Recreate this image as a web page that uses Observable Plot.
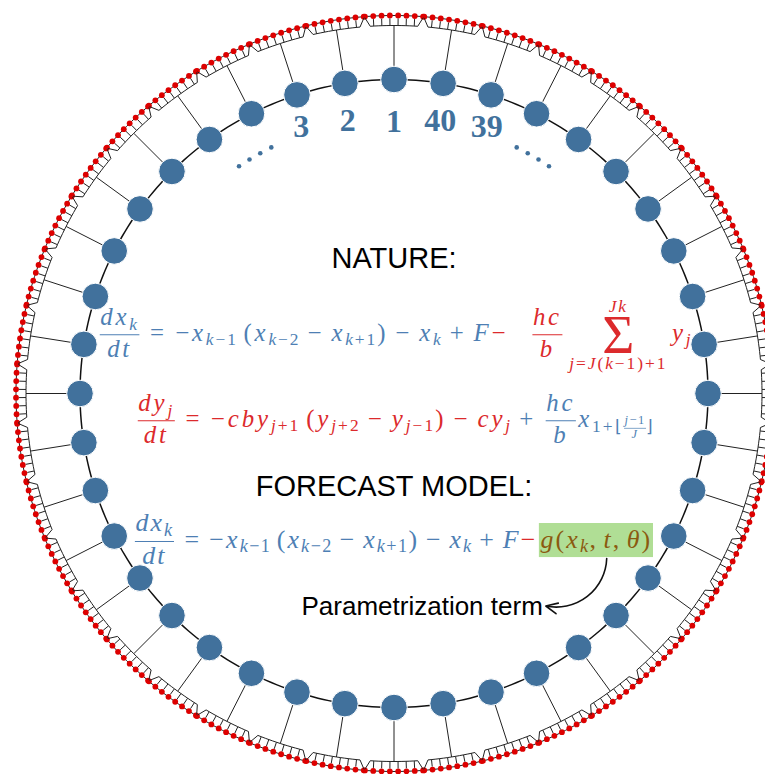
<!DOCTYPE html>
<html><head><meta charset="utf-8">
<script src="https://cdn.jsdelivr.net/npm/d3@7"></script>
<script src="https://cdn.jsdelivr.net/npm/@observablehq/plot@0.6"></script>
<style>body{margin:0;background:#fff}svg{display:block}</style>
</head><body><div id="chart"></div>
<script>
// ---------- data ----------
const K = 40;                 // number of large-scale variables x_k
const J = 8;                  // small-scale variables y_j per x_k
const shownLabels = [1, 2, 3, 39, 40];
const titles = ["NATURE:", "FORECAST MODEL:"];
const annotation = "Parametrization term";

// ---------- geometry / style ----------
const W = 765, H = 774;
const CX = 393.5, CY = 393;
const R_NODE = 314, R_BAR = 368, R_TICK = 375, R_END = 376.5, R_OUT = 378, R_ELL = 275;
const DY_ANG = 1.26, BAR_HALF = 3.7, END_HALF = 4.4;
const NODE = "#41719c", BL = "#4e7fb4", RD = "#dc2a2c", BR = "#8b5a10", GREEN = "#b0de95";

const rad = d => d * Math.PI / 180;
const px = (r, a) => CX + r * Math.cos(rad(a));
const py = (r, a) => CY - r * Math.sin(rad(a));
const nodeAngle = k => 90 + (k - 1) * 360 / K;
const labelOffset = k => (k > K / 2 ? k - K - 1 : k - 1);   // signed distance from node 1

const nodes = d3.range(1, K + 1).map(k => ({k, a: nodeAngle(k)}));
const ydots = nodes.flatMap(n => d3.range(J).map(i => ({k: n.k, a: n.a + (i - (J - 1) / 2) * DY_ANG})));
const ticks = nodes.flatMap(n => d3.range(J - 2).map(i => ({k: n.k, a: n.a + (i - (J - 3) / 2) * DY_ANG})));
const combPts = nodes.flatMap(n => {
  const pts = [[R_END, -END_HALF]];
  for (let d = -BAR_HALF; d <= BAR_HALF + 1e-9; d += BAR_HALF / 6) pts.push([R_BAR, d]);
  pts.push([R_END, END_HALF]);
  return pts.map(([r, d]) => ({k: n.k, x: px(r, n.a + d), y: py(r, n.a + d)}));
});
const ring = r => d3.range(0, 361, 1).map(a => ({x: px(r, a), y: py(r, a)}));
const ellipsis = d3.range(4).flatMap(i => [{a: 116.5 + i * 2.6}, {a: 63.5 - i * 2.6}]);
const labels = nodes.filter(n => shownLabels.includes(n.k)).map(n => {
  const o = labelOffset(n.k);
  return {k: n.k, a: 90 + o * 9.6, r: 272 + 5 * Math.abs(o)};
});

// ---------- tiny math typesetter ----------
const ctx = document.createElement("canvas").getContext("2d");
const SERIF = "Liberation Serif";
const GS = 1.08; // glyph enlargement relative to metric size
function mw(t, size, italic) {
  ctx.font = `${italic ? "italic " : ""}${size}px "${SERIF}"`;
  return ctx.measureText(t).width;
}
let FSZ = 23, TRACK = 0;
const isVar = ch => /[A-Za-zθ]/.test(ch);
const empty = () => ({w: 0, items: [], rules: [], tags: []});
function G(str, color, size = FSZ) {
  const b = empty();
  const gs = size * GS;
  for (const ch of str) {
    const italic = isVar(ch);
    b.items.push({x: b.w, dy: 0, t: ch, size: +gs.toFixed(2), italic, color});
    b.w += mw(ch, gs, italic) + 0.85 * TRACK * size / FSZ;
  }
  return b;
}
function place(b, dx) {
  return {w: b.w, items: b.items.map(i => ({...i, x: i.x + dx})),
    rules: b.rules.map(r => ({...r, x1: r.x1 + dx, x2: r.x2 + dx})),
    tags: b.tags.map(t => ({...t, x1: t.x1 + dx, x2: t.x2 + dx}))};
}
function S(b, dy) {
  return {w: b.w, items: b.items.map(i => ({...i, dy: i.dy + dy})),
    rules: b.rules.map(r => ({...r, dy: r.dy + dy})), tags: b.tags};
}
function Hb(...bs) {
  const o = empty();
  for (const b of bs) {
    const p = place(b, o.w);
    o.items.push(...p.items); o.rules.push(...p.rules); o.tags.push(...p.tags);
    o.w += b.w;
  }
  return o;
}
const SP = (em, stretch = 0) => ({w: em * FSZ + stretch * TRACK, items: [], rules: [], tags: []});
const sc = () => FSZ * 0.7, ssc = () => FSZ * 0.5;
const tag = (b, name) => ({...b, tags: [...b.tags, {name, x1: 0, x2: b.w}]});
const sub = (base, script, shift = 0.2) => Hb(base, S(script, shift * FSZ));
const bin = (op, c) => Hb(SP(4 / 18, 0.6), G(op, c), SP(4 / 18, 0.6));
const rel = (op, c) => Hb(SP(5 / 18, 0.6), G(op, c), SP(5 / 18, 0.6));
function frac(num, den, c, o = {}) {
  const up = o.up ?? 0.677 * FSZ, dn = o.dn ?? 0.70 * FSZ, axis = o.axis ?? 0.25 * FSZ;
  const pad = o.pad ?? 0.12 * FSZ, th = o.th ?? 1;
  const inner = Math.max(num.w, den.w), w = inner + 2 * pad;
  const n = S(place(num, pad + (inner - num.w) / 2), -up);
  const d = S(place(den, pad + (inner - den.w) / 2), dn);
  return {w, items: [...n.items, ...d.items],
    rules: [...n.rules, ...d.rules, {x1: pad - 0.5, x2: w - pad + 0.5, dy: -axis, color: c, th}],
    tags: [...n.tags, ...d.tags]};
}
function bigsum(upper, lower, c) {
  const Ssz = 2.4 * FSZ, axis = 0.25 * FSZ, half = 0.331 * Ssz;
  const sw = mw("Σ", Ssz, false);
  const w = Math.max(sw, upper.w, lower.w);
  const sig = {w: sw, items: [{x: (w - sw) / 2, dy: -axis + half, t: "Σ", size: +Ssz.toFixed(2), italic: false, color: c}], rules: [], tags: []};
  const up = S(place(upper, (w - upper.w) / 2), -axis - half - 4);
  const lo = S(place(lower, (w - lower.w) / 2), -axis + half + 0.72 * sc() + 4);
  return {w, items: [...sig.items, ...up.items, ...lo.items], rules: [], tags: []};
}
const xs = (t, c) => sub(G("x", c), G(t, c, sc()));
const ys = (t, c) => sub(G("y", c), G(t, c, sc()));
const rhsX = () => [rel("=", BL), G("−", BL), xs("k−1", BL), SP(1 / 6, 0.6), G("(", BL), xs("k−2", BL), bin("−", BL),
  xs("k+1", BL), G(")", BL), bin("−", BL), xs("k", BL), bin("+", BL), G("F", BL)];

const equations = [
  {x0: 97, base: 340, size: 23, width: 595, build: () => Hb(
    frac(Hb(G("d", BL), xs("k", BL)), G("dt", BL), BL), ...rhsX(),
    G("−", RD), SP(0.95), frac(G("hc", RD), G("b", RD), RD), SP(0.2),
    bigsum(G("Jk", RD, sc()), G("j=J(k−1)+1", RD, sc()), RD), SP(0.2), ys("j", RD))},
  {x0: 135, base: 426, size: 23, width: 520, build: () => {
    const small = frac(G("j−1", BL, ssc()), G("J", BL, ssc()), BL,
      {up: 0.34 * FSZ, dn: 0.27 * FSZ, axis: 0.17 * FSZ, pad: 0.04 * FSZ, th: 0.7});
    return Hb(
      frac(Hb(G("d", RD), ys("j", RD)), G("dt", RD), RD),
      rel("=", RD), G("−", RD), G("cb", RD), ys("j+1", RD), SP(1 / 6, 0.6), G("(", RD), ys("j+2", RD), bin("−", RD),
      ys("j−1", RD), G(")", RD), bin("−", RD), G("c", RD), ys("j", RD), bin("+", BL),
      frac(G("hc", BL), G("b", BL), BL),
      sub(G("x", BL), Hb(G("1+⌊", BL, sc()), small, G("⌋", BL, sc())), 0.25));
  }},
  {x0: 132, base: 547, size: 24, width: 521, build: () => Hb(
    frac(Hb(G("d", BL), xs("k", BL)), G("dt", BL), BL), ...rhsX(), G("−", RD), SP(0.08),
    tag(Hb(SP(0.05), G("g", BR), G("(", BR), xs("k", BR), G(",", BR), SP(1 / 6, 0.6), G("t", BR), G(",", BR),
      SP(1 / 6, 0.6), G("θ", BR), G(")", BR), SP(0.05)), "box"))}
];

const textItems = [], ruleItems = [];
let gbox = null;
for (const eq of equations) {
  FSZ = eq.size;
  TRACK = 0; const w0 = eq.build().w;
  TRACK = 1; const w1 = eq.build().w;
  TRACK = (eq.width - w0) / (w1 - w0);
  const b = eq.build();
  for (const it of b.items) textItems.push({...it, x: eq.x0 + it.x, y: eq.base + it.dy});
  for (const r of b.rules) ruleItems.push({...r, x1: eq.x0 + r.x1, x2: eq.x0 + r.x2, y: eq.base + r.dy});
  for (const t of b.tags) if (t.name === "box")
    gbox = {x1: eq.x0 + t.x1, x2: eq.x0 + t.x2, y1: eq.base - 1.0 * FSZ, y2: eq.base + 0.42 * FSZ};
}

// annotation text geometry
const ANN_SIZE = 26, ANN_X = 301, ANN_BASE = 614;
ctx.font = `${ANN_SIZE}px "Liberation Sans"`;
const annEnd = ANN_X + ctx.measureText(annotation).width;
const arrow = [{x1: gbox.x1 + 0.59 * (gbox.x2 - gbox.x1), y1: gbox.y2 + 1, x2: annEnd + 3, y2: ANN_BASE - 8.5}];

// ---------- marks ----------
const textMarks = Array.from(d3.group(textItems, d => `${d.italic}|${d.color}|${d.size}`), ([key, arr]) =>
  Plot.text(arr, {x: "x", y: "y", text: "t", textAnchor: "start", lineAnchor: "bottom",
    fontFamily: SERIF, fontStyle: arr[0].italic ? "italic" : "normal", fontSize: arr[0].size, fill: arr[0].color}));
const ruleMarks = Array.from(d3.group(ruleItems, d => `${d.color}|${d.th}`), ([key, arr]) =>
  Plot.link(arr, {x1: "x1", x2: "x2", y1: "y", y2: "y", stroke: arr[0].color, strokeWidth: arr[0].th}));

const chart = Plot.plot({
  width: W, height: H, margin: 0,
  x: {domain: [0, W], range: [0, W], axis: null},
  y: {domain: [0, H], range: [0, H], axis: null},
  marks: [
    Plot.line(ring(R_OUT), {x: "x", y: "y", stroke: "#222", strokeWidth: 1}),
    Plot.dot(ydots, {x: d => px(R_OUT, d.a), y: d => py(R_OUT, d.a), r: 2.9, fill: "#dd0000"}),
    Plot.line(combPts, {x: "x", y: "y", z: "k", stroke: "#222", strokeWidth: 1}),
    Plot.link(ticks, {x1: d => px(R_BAR, d.a), y1: d => py(R_BAR, d.a), x2: d => px(R_TICK, d.a), y2: d => py(R_TICK, d.a), stroke: "#222", strokeWidth: 1}),
    Plot.link(nodes, {x1: d => px(R_NODE, d.a), y1: d => py(R_NODE, d.a), x2: d => px(R_BAR, d.a), y2: d => py(R_BAR, d.a), stroke: "#222", strokeWidth: 1}),
    Plot.line(ring(R_NODE), {x: "x", y: "y", stroke: "#111", strokeWidth: 1.5}),
    Plot.dot(nodes, {x: d => px(R_NODE, d.a), y: d => py(R_NODE, d.a), r: 13.3, fill: NODE, stroke: "white", strokeWidth: 1}),
    Plot.text(labels, {x: d => px(d.r, d.a), y: d => py(d.r, d.a), text: d => String(d.k),
      fontFamily: SERIF, fontWeight: "bold", fontSize: 32, fill: NODE, lineAnchor: "middle"}),
    Plot.dot(ellipsis, {x: d => px(R_ELL, d.a), y: d => py(R_ELL, d.a), r: 2.3, fill: NODE}),
    Plot.text(titles, {x: () => CX, y: (d, i) => [258, 486][i], text: d => d, fontFamily: "Liberation Sans", fontSize: 29, fill: "#000", lineAnchor: "middle"}),
    Plot.rect([gbox], {x1: "x1", x2: "x2", y1: "y1", y2: "y2", fill: GREEN}),
    ...ruleMarks,
    ...textMarks,
    Plot.text([annotation], {x: () => ANN_X, y: () => ANN_BASE, text: d => d, textAnchor: "start", lineAnchor: "bottom",
      fontFamily: "Liberation Sans", fontSize: ANN_SIZE, fill: "#000"}),
    Plot.arrow(arrow, {x1: "x1", y1: "y1", x2: "x2", y2: "y2", bend: 50, stroke: "#111", strokeWidth: 1.6, headLength: 12, headAngle: 50})
  ]
});
document.getElementById("chart").appendChild(chart);
</script>
</body></html>
